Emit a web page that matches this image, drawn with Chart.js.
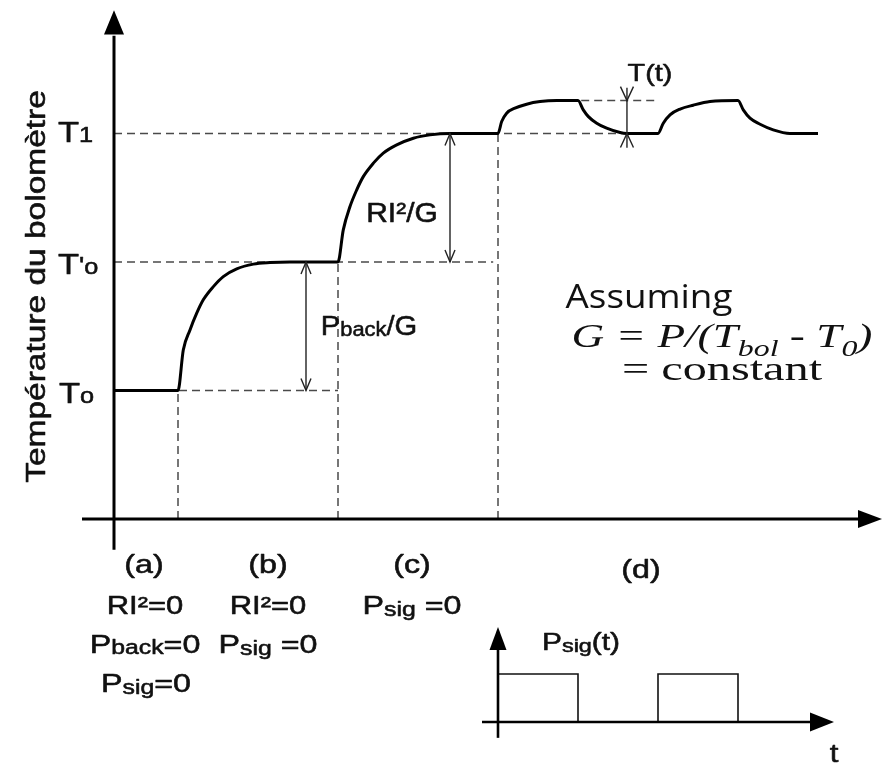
<!DOCTYPE html>
<html>
<head>
<meta charset="utf-8">
<title>Température du bolomètre</title>
<script src="https://cdn.jsdelivr.net/npm/chart.js@4/dist/chart.umd.min.js"></script>
<style>
  html, body { margin: 0; padding: 0; background: #fff; overflow: hidden; }
  canvas { display: block; }
</style>
</head>
<body>
<canvas id="bolo" width="888" height="765"></canvas>
<script>
// Bolometer temperature versus time (T0 = 1, T'0 = 2, T1 = 3 in temperature units)
const tempTimes = [
  0, 4, 4.33, 4.75, 5.17, 5.58, 6.21, 6.83, 7.67, 8.71, 9.75, 11, 14,
  14.33, 14.75, 15.17, 15.58, 16.21, 16.83, 17.67, 18.71, 19.75, 21, 24,
  24.23, 24.54, 25.06, 25.79, 26.63, 27.67, 29.0,
  29.33, 29.65, 30.17, 30.79, 31.63, 32.04, 34.0,
  34.33, 34.75, 35.38, 36.2, 37.25, 39.0,
  39.33, 39.75, 40.38, 41.2, 42.25, 44.0
];
const tempValues = [
  1, 1, 1.315, 1.471, 1.601, 1.705, 1.808, 1.886, 1.946, 1.983, 1.995, 2.0, 2.0,
  2.25, 2.431, 2.561, 2.664, 2.769, 2.847, 2.911, 2.963, 2.989, 3.0, 3.0,
  3.093, 3.158, 3.197, 3.228, 3.248, 3.256, 3.256,
  3.184, 3.131, 3.08, 3.041, 3.007, 3.0, 3.0,
  3.08, 3.145, 3.19, 3.22, 3.248, 3.256,
  3.184, 3.119, 3.072, 3.028, 3.0, 3.0
];

// Reference levels To, T'o, T1 and how far their dashed guides run
const levelValues = [1, 2, 3];
const levelGuideEnds = [14, 23.7, 32];
// Start of phases (b), (c), (d)
const phaseStarts = [4, 14, 24];
// Modulated maximum in phase (d) and its dashed guide
const peakLevel = 3.256;
const peakGuide = [29.2, 33.8];

// Modulated signal power Psig(t)
const pulseTimes = [24, 24, 29, 29, 34, 34, 39, 39];
const pulseValues = [0, 1, 1, 0, 0, 1, 1, 0];

const INK = '#111';
const GUIDE = '#4a4a4a';

const pts = (xs, ys) => xs.map((t, i) => ({ x: t, y: ys[i] }));

const guideStyle = {
  showLine: true, borderColor: GUIDE, borderWidth: 1.5, borderDash: [8, 5],
  pointRadius: 0, fill: false, tension: 0, order: 2
};

const datasets = [
  {
    label: 'T', data: pts(tempTimes, tempValues), showLine: true,
    borderColor: '#000', borderWidth: 3, pointRadius: 0, fill: false,
    cubicInterpolationMode: 'monotone', order: 0
  }
];
levelValues.forEach((lv, i) => {
  datasets.push(Object.assign({ label: 'level' + i, data: [{ x: 0, y: lv }, { x: levelGuideEnds[i], y: lv }] }, guideStyle));
});
phaseStarts.forEach((t, i) => {
  datasets.push(Object.assign({ label: 'phase' + i, data: [{ x: t, y: 0 }, { x: t, y: levelValues[i] }] }, guideStyle));
});
datasets.push(Object.assign({ label: 'peak', data: [{ x: peakGuide[0], y: peakLevel }, { x: peakGuide[1], y: peakLevel }] }, guideStyle));
datasets.push({
  label: 'Psig', data: pts(pulseTimes, pulseValues), yAxisID: 'yp', showLine: true,
  borderColor: INK, borderWidth: 1.6, pointRadius: 0, fill: false, tension: 0, order: 1
});

// Text with sub/superscript parts, stretched horizontally by sx
function richText(ctx, parts, x, y, o) {
  const fam = o.family || '"Liberation Sans", Arial, sans-serif';
  const style = o.style || '';
  const weight = o.stroke === undefined ? 0.55 : o.stroke;
  ctx.save();
  ctx.textBaseline = 'alphabetic';
  ctx.textAlign = 'left';
  let w = 0;
  const runs = parts.map(p => {
    const size = p[1];
    const font = (p[3] || style) + ' ' + size + 'px ' + fam;
    ctx.font = font;
    const width = ctx.measureText(p[0]).width;
    w += width;
    return { text: p[0], font, width, shift: p[2] || 0 };
  });
  ctx.translate(x, y);
  if (o.rotate) ctx.rotate(o.rotate);
  ctx.scale(o.sx || 1, 1);
  let cx = o.align === 'center' ? -w / 2 : (o.align === 'right' ? -w : 0);
  ctx.fillStyle = o.color || INK;
  ctx.strokeStyle = o.color || INK;
  ctx.lineWidth = weight;
  ctx.lineJoin = 'round';
  runs.forEach(r => {
    ctx.font = r.font;
    ctx.fillText(r.text, cx, r.shift);
    if (weight > 0) ctx.strokeText(r.text, cx, r.shift);
    cx += r.width;
  });
  ctx.restore();
}

const drawPlugin = {
  id: 'boloDecor',
  afterDatasetsDraw(chart) {
    const { ctx } = chart;
    const xs = chart.scales.x, ys = chart.scales.y, ps = chart.scales.yp;
    const X = v => xs.getPixelForValue(v);
    const Y = v => ys.getPixelForValue(v);
    const YP = v => ps.getPixelForValue(v);

    const seg = (x1, y1, x2, y2, w, col) => {
      ctx.beginPath(); ctx.moveTo(x1, y1); ctx.lineTo(x2, y2);
      ctx.lineWidth = w; ctx.strokeStyle = col || '#000'; ctx.setLineDash([]); ctx.stroke();
    };
    const tri = (a, b, c) => {
      ctx.beginPath(); ctx.moveTo(a[0], a[1]); ctx.lineTo(b[0], b[1]); ctx.lineTo(c[0], c[1]);
      ctx.closePath(); ctx.fillStyle = '#000'; ctx.fill();
    };
    // open arrow head: dir = +1 points down, -1 points up
    const head = (px, py, dir, hw, len) => {
      ctx.beginPath();
      ctx.moveTo(px - hw, py - dir * len); ctx.lineTo(px, py); ctx.lineTo(px + hw, py - dir * len);
      ctx.lineWidth = 1.4; ctx.strokeStyle = '#222'; ctx.setLineDash([]); ctx.stroke();
    };

    ctx.save();
    ctx.lineCap = 'butt';

    // main axes
    seg(X(-2), Y(0), X(46.6), Y(0), 3);
    tri([X(48), Y(0)], [X(46.5), Y(0) - 9], [X(46.5), Y(0) + 9]);
    seg(X(0), Y(-0.24), X(0), Y(3.76), 3);
    tri([X(0), Y(3.96)], [X(0) - 10, Y(3.77)], [X(0) + 10, Y(3.77)]);

    // double arrows for the temperature steps
    const spans = [[12, 1, 2], [21, 2, 3]];
    spans.forEach(s => {
      const px = X(s[0]);
      seg(px, Y(s[1]), px, Y(s[2]), 1.4, '#222');
      head(px, Y(s[2]), -1, 5, 12);
      head(px, Y(s[1]), 1, 5, 12);
    });
    // modulation amplitude T(t)
    const pt = X(32.06);
    seg(pt, Y(3.355), pt, Y(2.888), 1.4, '#222');
    head(pt, Y(peakLevel), 1, 6.5, 14);
    head(pt, Y(3), -1, 6.5, 14);

    // inset axes for Psig(t)
    seg(X(23), YP(0), X(43.6), YP(0), 2.6);
    tri([X(45), YP(0)], [X(43.5), YP(0) - 9.5], [X(43.5), YP(0) + 9.5]);
    seg(X(24), YP(-0.33), X(24), YP(1.52), 2.6);
    tri([X(24), YP(1.98)], [X(24) - 8.5, YP(1.5)], [X(24) + 8.5, YP(1.5)]);

    // axis title
    richText(ctx, [['Température du bolomètre', 27]], 45, 286.5,
      { align: 'center', sx: 1.24, rotate: -Math.PI / 2 });

    // level labels
    richText(ctx, [['T', 30], ['1', 22]], 58, 142, { sx: 1.15 });
    richText(ctx, [['T', 30], ["'", 24], ['o', 22]], 58, 274, { sx: 1.15 });
    richText(ctx, [['T', 30], ['o', 22]], 59, 403, { sx: 1.15 });

    // step annotations
    richText(ctx, [['RI²/G', 28]], 402, 222, { align: 'center', sx: 1.07 });
    richText(ctx, [['P', 28], ['back', 21, 1], ['/G', 28]], 369, 335, { align: 'center', sx: 1.04 });
    richText(ctx, [['T(t)', 24]], 650, 81, { align: 'center', sx: 1.2 });

    // phase labels under the time axis
    const B = { align: 'center', sx: 1.24 };
    richText(ctx, [['(a)', 26]], 144, 573, B);
    richText(ctx, [['RI²=0', 25]], 145, 614, B);
    richText(ctx, [['P', 26], ['back', 20, 1], ['=0', 26]], 145, 653, B);
    richText(ctx, [['P', 26], ['sig', 20, 2], ['=0', 26]], 146, 692, B);
    richText(ctx, [['(b)', 26]], 268, 573, B);
    richText(ctx, [['RI²=0', 25]], 268, 614, B);
    richText(ctx, [['P', 26], ['sig', 20, 2], [' =0', 26]], 268, 653, B);
    richText(ctx, [['(c)', 26]], 412, 573, B);
    richText(ctx, [['P', 26], ['sig', 20, 2], [' =0', 26]], 412, 614, B);
    richText(ctx, [['(d)', 26]], 641, 578, B);

    // inset labels
    richText(ctx, [['P', 23], ['sig', 18, 2], ['(t)', 23]], 542, 650, { sx: 1.3 });
    richText(ctx, [['t', 26]], 834, 762, { align: 'center', sx: 1.2 });

    // conductance assumption
    richText(ctx, [['Assuming', 32]], 649, 308,
      { align: 'center', sx: 1.15, stroke: 0, family: '"Open Sans", "Noto Sans", sans-serif' });
    const serif = '"Liberation Serif", "Times New Roman", serif';
    richText(ctx, [['G = P/(T', 34], ['bol', 24, 9], [' - T', 34], ['0', 24, 9], [')', 34]], 722, 347,
      { align: 'center', sx: 1.33, stroke: 0, family: serif, style: 'italic' });
    richText(ctx, [['= constant', 34]], 722, 380,
      { align: 'center', sx: 1.42, stroke: 0, family: serif });

    ctx.restore();
  }
};

new Chart(document.getElementById('bolo').getContext('2d'), {
  type: 'scatter',
  data: { datasets },
  options: {
    responsive: false,
    animation: false,
    devicePixelRatio: 1,
    layout: { padding: { left: 82, right: 6, top: 5, bottom: 2 } },
    plugins: { legend: { display: false }, tooltip: { enabled: false } },
    scales: {
      x: { type: 'linear', min: -2, max: 48, display: false },
      y: { type: 'linear', min: -1.9, max: 4.0, display: false },
      yp: { type: 'linear', min: -0.854, max: 14.937, display: false }
    }
  },
  plugins: [drawPlugin]
});
</script>
</body>
</html>
